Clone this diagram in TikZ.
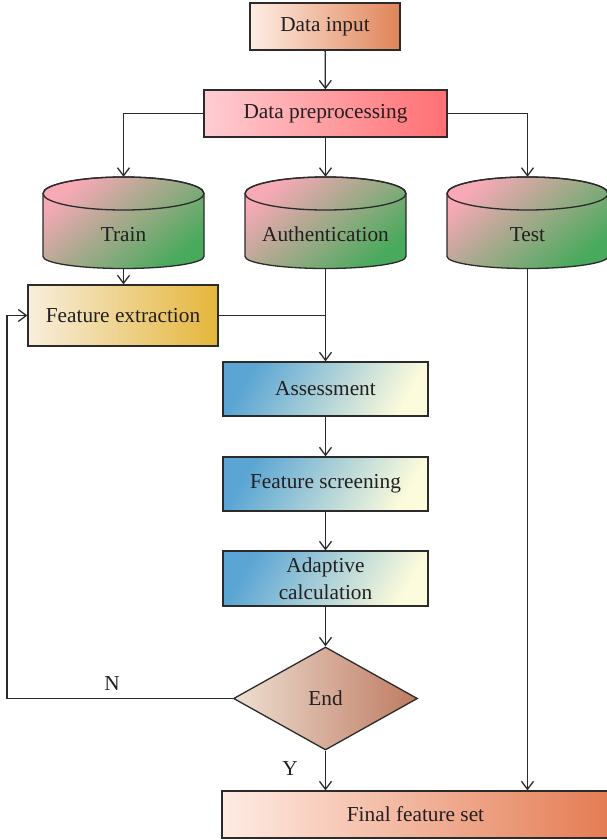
\documentclass[tikz,border=0pt]{standalone}
\usepackage{fontspec}
\setmainfont{Liberation Serif}
\usetikzlibrary{arrows.meta,shapes.geometric}
\definecolor{lc}{HTML}{2B2B2B}
\definecolor{txt}{HTML}{231F20}
\definecolor{inL}{HTML}{FFEDE4}
\definecolor{inR}{HTML}{DF8458}
\definecolor{preL}{HTML}{FFCDD3}
\definecolor{preR}{HTML}{FF6F72}
\definecolor{cyP}{HTML}{F7A9B6}
\definecolor{cyG}{HTML}{48AA5C}
\definecolor{feL}{HTML}{F7EEDD}
\definecolor{feR}{HTML}{E5B63A}
\definecolor{bL}{HTML}{5AA5D4}
\definecolor{bM}{HTML}{C6E8E6}
\definecolor{bR}{HTML}{FCFBDB}
\definecolor{dL}{HTML}{EEDFD2}
\definecolor{dR}{HTML}{BE7A61}
\definecolor{fiL}{HTML}{FFEBE3}
\definecolor{fiR}{HTML}{E47C53}
\newcommand\drawcyl[1]{%
  \draw[draw=lc, line width=1.3pt, left color=cyP, right color=cyG, shading angle=40]
    (#1-80.5,193.5) -- (#1-80.5,256.5)
    .. controls (#1-80.5,263.1) and (#1-44.5,268.5) .. (#1,268.5)
    .. controls (#1+44.5,268.5) and (#1+80.5,263.1) .. (#1+80.5,256.5)
    -- (#1+80.5,193.5)
    .. controls (#1+80.5,184.4) and (#1+44.5,177) .. (#1,177)
    .. controls (#1-44.5,177) and (#1-80.5,184.4) .. (#1-80.5,193.5) -- cycle;
  \draw[draw=lc, line width=1.3pt] (#1,193.5) ellipse [x radius=80.5pt, y radius=16.5pt];
}
\begin{document}
\begin{tikzpicture}[x=1pt,y=-1pt,
  every node/.style={font=\fontsize{21.3}{27}\selectfont, text=txt},
  box/.style={draw=lc, line width=1.3pt, rectangle, inner sep=0pt, align=center},
  cylnode/.style={rectangle, inner sep=0pt, minimum width=161pt, text height=64pt, text depth=27pt},
  conn/.style={draw=lc, line width=1.3pt},
  arr/.style={conn, -{Straight Barb[length=8pt,width=12pt]}},
  bluebox/.style={box, minimum width=205pt, minimum height=54pt, left color=bL, middle color=bM, right color=bR, shading angle=60}
]
\useasboundingbox (0,0) rectangle (607,840);

\node[box, minimum width=150pt, minimum height=47pt, left color=inL, right color=inR] (in) at (325,26.5) {Data input};
\node[box, minimum width=243pt, minimum height=47pt, left color=preL, right color=preR] (pre) at (325.5,113.5) {Data preprocessing};

\drawcyl{123.5}
\drawcyl{325.5}
\drawcyl{527.5}
\node[cylnode] (train) at (123.5,222.5) {Train};
\node[cylnode] (auth) at (325.5,222.5) {Authentication};
\node[cylnode] (test) at (527.5,222.5) {Test};

\node[box, minimum width=190pt, minimum height=61pt, left color=feL, right color=feR] (fe) at (123,315.5) {Feature extraction};

\node[bluebox] (as) at (325.5,389) {Assessment};
\node[bluebox] (fs) at (325.5,484) {Feature screening};
\node[bluebox, minimum height=55pt] (ac) at (325.5,578.5) {Adaptive\\calculation};

\node[diamond, draw=lc, line width=1.3pt, minimum width=184pt, minimum height=103pt, inner sep=0pt, left color=dL, right color=dR] (end) at (325.5,698.5) {End};

\node[box, minimum width=387pt, minimum height=47pt, left color=fiL, right color=fiR] (fin) at (415.5,814.5) {Final feature set};

\coordinate (nturn) at (7,698.5);

\draw[arr] (in) -- (pre);
\draw[arr] (pre.west) -| (train.north);
\draw[arr] (pre.east) -| (test.north);
\draw[arr] (pre) -- (auth);
\draw[arr] (train.south) -- (train.south |- fe.north);
\draw[arr] (auth.south) -- (as.north);
\draw[conn] (fe.east) -- (fe.east -| auth.south);
\draw[arr] (as) -- (fs);
\draw[arr] (fs) -- (ac);
\draw[arr] (ac) -- (end);
\draw[arr] (end.west) -- (nturn) |- (fe.west);
\draw[arr] (end.south) -- (end.south |- fin.north);
\draw[arr] (test.south) -- (test.south |- fin.north);

\node[anchor=base] (nlbl) at (112,690) {N};
\node[anchor=base] (ylbl) at (290,775) {Y};
\end{tikzpicture}
\end{document}
